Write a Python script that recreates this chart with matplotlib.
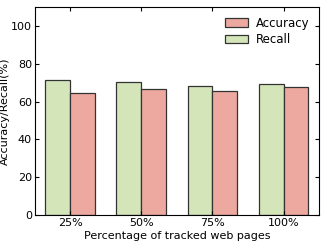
import numpy as np
import matplotlib
matplotlib.use('Agg')
import matplotlib.pyplot as plt

labels = ['25%', '50%', '75%', '100%']
recall = [71.3, 70.5, 68.5, 69.4]
accuracy = [64.4, 66.7, 65.7, 68.0]

x = np.arange(len(labels))
w = 0.35

fig, ax = plt.subplots(figsize=(3.27, 2.45), dpi=100)
ax.bar(x - w, recall, w, align='edge', color='#d4e6b9', edgecolor='#333333',
       linewidth=0.9, label='Recall')
ax.bar(x, accuracy, w, align='edge', color='#eda9a0', edgecolor='#333333',
       linewidth=0.9, label='Accuracy')

ax.set_xlim(-0.5, 3.5)
ax.set_ylim(0, 110)
ax.set_yticks([0, 20, 40, 60, 80, 100])
ax.set_xticks(x)
ax.set_xticklabels(labels)
ax.tick_params(direction='in', top=True, right=True, labelsize=8, length=3, pad=2)
ax.set_xlabel('Percentage of tracked web pages', fontsize=8, labelpad=2)
ax.set_ylabel('Accuracy/Recall(%)', fontsize=8, labelpad=1)

h, l = ax.get_legend_handles_labels()
ax.legend(h[::-1], l[::-1], loc='upper right', bbox_to_anchor=(1.0, 1.0),
          frameon=False, fontsize=8.5, handlelength=1.9, handleheight=0.75,
          handletextpad=0.7, borderaxespad=0.4, labelspacing=0.3)

plt.subplots_adjust(left=0.106, right=0.976, top=0.971, bottom=0.122)
plt.savefig('out.png', dpi=100)
